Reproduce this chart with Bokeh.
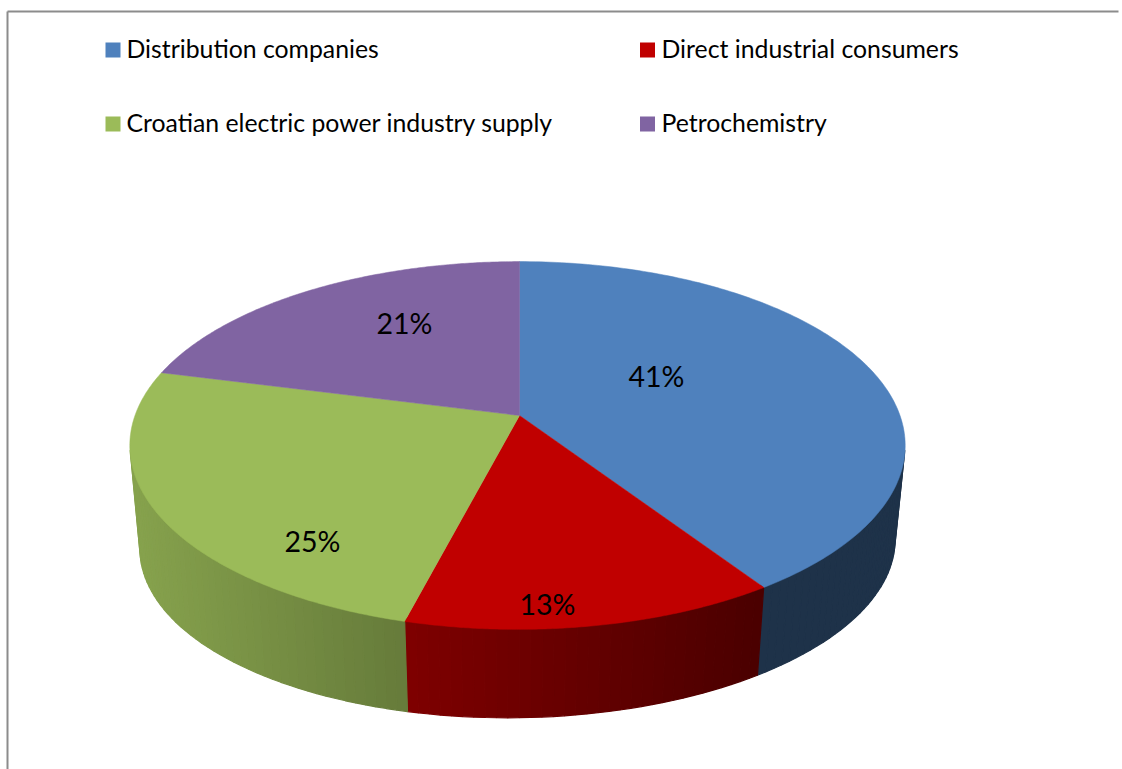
import numpy as np
from bokeh.plotting import figure
from bokeh.models import Range1d
from bokeh.core.properties import value
from bokeh.embed import file_html
from bokeh.resources import INLINE

categories = ["Distribution companies", "Direct industrial consumers",
              "Croatian electric power industry supply", "Petrochemistry"]
shares = [40.6, 13.4, 25, 21]
labels = ["41%", "13%", "25%", "21%"]
colors = ["#4F81BD", "#C00000", "#9BBB59", "#8064A2"]

W, H = 1122, 769
FONT = value("Lato")

p = figure(width=W, height=H, output_backend="svg", toolbar_location=None,
           x_range=Range1d(0, W), y_range=Range1d(H, 0), min_border=0,
           outline_line_color=None)
p.axis.visible = False
p.grid.visible = False

# frame of the chart area
p.line([7, 7], [H, 11], line_color="#8C8C8C", line_width=2)
p.line([7, 1118], [11, 11], line_color="#8C8C8C", line_width=2)

# perspective projection of a unit disc
CX, CY, AX, BY, K = 519.0, 415.0, 382.5, 179.0, 0.163
def project(theta):
    u, v = np.sin(theta), -np.cos(theta)
    w = 1 - K * v
    return CX - 2 + AX * u / w + 2 * (1 - np.abs(u)) * (v < 0), CY + BY * v / w

def lower(x, y):
    return 517 + 0.974 * (x - 517), 543.5 + 0.945 * (y - 445) - 0.012 * (x - 517)

def hex_rgb(c):
    return np.array([int(c[i:i + 2], 16) for i in (1, 3, 5)], dtype=float)

def shade(c, x):
    f = np.clip(0.87 - (x - 130) * 0.48 / 630, 0.39, 0.87)
    r = (hex_rgb(c) * f).astype(int)
    return "#%02x%02x%02x" % tuple(r)

edges = np.concatenate([[0], np.cumsum(shares)]) / sum(shares) * 2 * np.pi

# side wall (front part only); its upper edge is tucked under the top face
wx, wy, wc = [], [], []
for a, b, c in zip(edges[:-1], edges[1:], colors):
    n = max(8, int((b - a) * 40))
    t = np.linspace(a, b, n + 1)
    x, y = project(t)
    xb, yb = lower(x, y)
    yi = y - 3
    for i in range(n):
        if np.cos(t[i]) > -0.2 or np.cos(t[i + 1]) > -0.2:
            continue
        wx.append([x[i], x[i + 1], xb[i + 1], xb[i]])
        wy.append([yi[i], yi[i + 1], yb[i + 1], yb[i]])
        wc.append(shade(c, 0.5 * (x[i] + x[i + 1])))
p.patches(wx, wy, fill_color=wc, line_color=wc, line_width=1.2)

# top faces
tx, ty = [], []
for a, b in zip(edges[:-1], edges[1:]):
    t = np.linspace(a, b, 160)
    x, y = project(t)
    tx.append(np.concatenate([[CX], x]).tolist())
    ty.append(np.concatenate([[CY], y]).tolist())
p.patches(tx, ty, fill_color=colors, line_color=colors, line_width=0.5)

# data labels
p.text([656, 547, 312, 404], [375.5, 603.5, 540.5, 322.5], text=labels, text_font=FONT,
       text_font_size="28.5px", text_align="center", text_baseline="middle", text_color="#000000")

# legend
lx = [112.5, 647, 112.5, 647]
ly = [49.5, 49.5, 123.5, 123.5]
p.rect(lx, ly, width=15, height=15, fill_color=colors, line_color=None)
p.text([126, 661, 126, 661], [48, 48, 122, 122], text=categories, text_font=FONT, text_font_size="24.8px",
       text_align="left", text_baseline="middle", text_color="#000000")

open("out.html", "w").write(file_html(p, INLINE))
